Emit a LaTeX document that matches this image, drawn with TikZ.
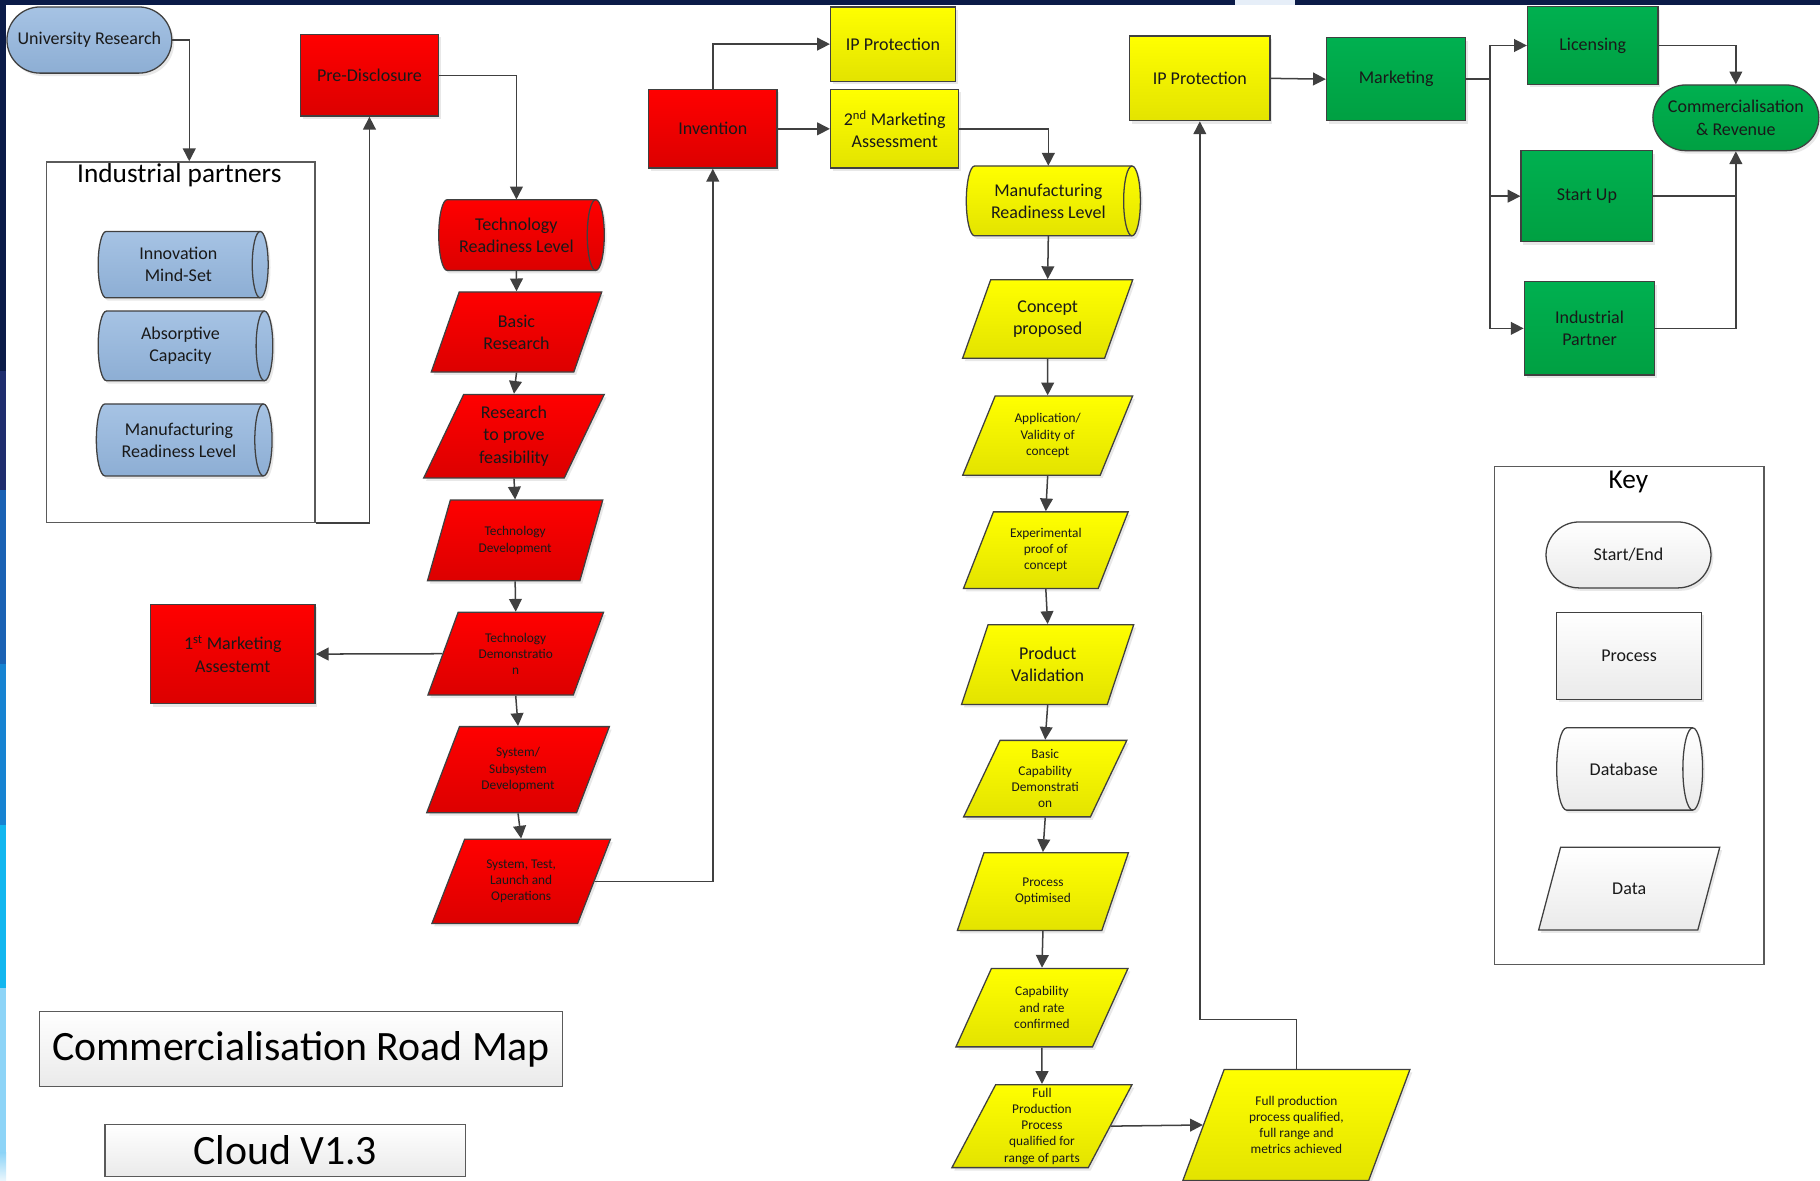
\documentclass[tikz,border=0pt]{standalone}
\usepackage{fontspec}
\setmainfont{Carlito}
\usetikzlibrary{shapes.geometric,shapes.misc,arrows.meta,shadows}

\definecolor{linegray}{HTML}{404040}
\definecolor{framegray}{HTML}{5A5A5A}
\definecolor{redtop}{HTML}{FF0000}
\definecolor{redbot}{HTML}{DC0000}
\definecolor{yeltop}{HTML}{FFFF00}
\definecolor{yelbot}{HTML}{E3E300}
\definecolor{grntop}{HTML}{00B050}
\definecolor{grnbot}{HTML}{00A042}
\definecolor{blutop}{HTML}{A6C3E4}
\definecolor{blubot}{HTML}{8DAED4}
\definecolor{keybot}{HTML}{EAEAEA}
\definecolor{navy}{HTML}{0B1B48}
\definecolor{stripa}{HTML}{1F2D6E}
\definecolor{stripb}{HTML}{1A62B4}
\definecolor{stripc}{HTML}{1683D2}
\definecolor{stripd}{HTML}{12B6EF}
\definecolor{stripe}{HTML}{8DD4F7}
\definecolor{stripf}{HTML}{EAF6FD}
\definecolor{bandpatch}{HTML}{E6EEF8}

\newcommand\bigtxt{\fontsize{15.5}{19}\selectfont}
\newcommand\smalltxt{\fontsize{11.5}{14}\selectfont}
\newcommand\headtxt{\fontsize{23.5}{27}\selectfont}
\newcommand\titletxt{\fontsize{36}{40}\selectfont}

\tikzset{
  sz/.style 2 args={minimum width=#1pt,minimum height=#2pt},
  shad/.style={drop shadow={shadow xshift=2pt,shadow yshift=-2.5pt,opacity=0.18}},
  shp/.style={draw=linegray,line width=1.1pt,inner sep=0pt,align=center,
    font=\bigtxt,text=black!90,shad},
  procbox/.style={shp,rectangle},
  databox/.style={shp,trapezium,trapezium left angle=65,trapezium right angle=115,
    trapezium stretches=true},
  termbox/.style={shp,rounded rectangle},
  small/.style={font=\smalltxt},
  redfill/.style={top color=redtop,bottom color=redbot},
  yelfill/.style={top color=yeltop,bottom color=yelbot},
  grnfill/.style={top color=grntop,bottom color=grnbot},
  blufill/.style={top color=blutop,bottom color=blubot},
  keyfill/.style={top color=white,bottom color=keybot},
  arr/.style={draw=linegray,line width=1.3pt,-{Triangle[length=11pt,width=11pt]}},
  conn/.style={draw=linegray,line width=1.3pt},
  frame/.style={draw=framegray,line width=1.2pt},
}

% horizontal database cylinder: name, x, y, width, height, fill style, text
% the named node covers the cylinder body, so its text and anchors sit on the body
\newcommand\dbnode[7]{%
  \pgfmathsetmacro\dbe{0.12*#5}%
  \pgfmathsetmacro\dbr{#5/2}%
  \pgfmathsetmacro\dbxl{#2-#4/2+\dbe}%
  \pgfmathsetmacro\dbxr{#2+#4/2-\dbe}%
  \pgfmathsetmacro\dbyt{#3-#5/2}%
  \pgfmathsetmacro\dbyb{#3+#5/2}%
  \pgfmathsetmacro\dbcx{#2-0.6*\dbe}%
  \pgfmathsetmacro\dbw{#4-1.2*\dbe}%
  \draw[draw=linegray,line width=1.1pt,shad,#6] (\dbxl,\dbyt) -- (\dbxr,\dbyt)
    arc[start angle=90,end angle=-90,x radius=\dbe pt,y radius=\dbr pt]
    -- (\dbxl,\dbyb)
    arc[start angle=270,end angle=90,x radius=\dbe pt,y radius=\dbr pt] -- cycle;
  \draw[draw=linegray,line width=1.1pt] (\dbxr,\dbyt)
    arc[start angle=90,end angle=270,x radius=\dbe pt,y radius=\dbr pt];
  \node[inner sep=0pt,align=center,font=\bigtxt,text=black!90,sz={\dbw}{#5}] (#1) at (\dbcx,#3) {#7};
}

\begin{document}
\begin{tikzpicture}[x=1pt,y=-1pt]
\useasboundingbox (0,0) rectangle (1568,1017);
\fill[white] (0,0) rectangle (1568,1017);

% slide frame: top band and stepped left strip
\fill[navy] (0,0) rectangle (1568,4.5);
\fill[bandpatch] (1064,0) rectangle (1116,4.5);
\fill[navy] (0,0) rectangle (5.2,320);
\fill[stripa] (0,320) rectangle (5.2,422);
\fill[stripb] (0,422) rectangle (5.2,572);
\fill[stripc] (0,572) rectangle (5.2,711);
\fill[stripd] (0,711) rectangle (5.2,851);
\fill[stripe] (0,851) rectangle (5.2,993);
\shade[top color=stripe,bottom color=stripf] (0,993) rectangle (5.2,1017);

% ---------- university side ----------
\node[termbox,blufill,sz={142}{57}] (ur) at (77,34.5) {University Research};
\node[frame,rectangle,sz={231.5}{310.5}] (ipbox) at (155.75,294.75) {};
\node[font=\headtxt,inner sep=0pt] (iptitle) at (154.5,151) {Industrial partners};
\dbnode{imind}{157.8}{228}{146.5}{57.2}{blufill}{Innovation\\Mind-Set}
\dbnode{absc}{159.8}{298}{150.5}{60}{blufill}{Absorptive\\Capacity}
\dbnode{mrlzero}{158.7}{379}{151.4}{62}{blufill}{Manufacturing\\Readiness Level}

% ---------- technology readiness (red) ----------
\node[procbox,redfill,sz={118.5}{70.3}] (pd) at (318.3,64.9) {Pre-Disclosure};
\dbnode{trl}{449.3}{202.5}{142.6}{61}{redfill}{Technology\\Readiness Level}
\node[databox,redfill,sz={147}{69}] (br) at (445,286) {Basic\\Research};
\node[databox,redfill,sz={155.6}{72}] (rpf) at (442.8,375.8) {Research\\to prove\\feasibility};
\node[databox,redfill,small,sz={151.6}{69.5}] (tdev) at (443.8,465.6) {Technology\\Development};
\node[databox,redfill,small,sz={152.2}{71.3}] (tdemo) at (444.3,563.2) {Technology\\Demonstratio\\n};
\node[databox,redfill,small,sz={158.5}{74.2}] (ssd) at (446.3,663.1) {System/\\Subsystem\\Development};
\node[databox,redfill,small,sz={154.3}{72.5}] (sto) at (449,759.3) {System, Test,\\Launch and\\Operations};
\node[procbox,redfill,sz={142}{85.4}] (mktone) at (200.5,563.5) {1\textsuperscript{st} Marketing\\Assestemt};
\node[procbox,redfill,sz={110.4}{67.7}] (inv) at (614.1,111) {Invention};

% ---------- manufacturing readiness (yellow) ----------
\node[procbox,yelfill,sz={107.5}{64}] (ipone) at (769.3,38) {IP Protection};
\node[procbox,yelfill,sz={110.5}{67.7}] (mkttwo) at (770.8,111) {2\textsuperscript{nd} Marketing\\Assessment};
\dbnode{mrl}{907.5}{173.1}{150}{60.2}{yelfill}{Manufacturing\\Readiness Level}
\node[databox,yelfill,sz={146.8}{67.6}] (cp) at (902.6,274.8) {Concept\\proposed};
\node[databox,yelfill,small,sz={146.8}{68.3}] (avc) at (902.6,375.3) {Application/\\Validity of\\concept};
\node[databox,yelfill,small,sz={142}{66}] (epc) at (901,474) {Experimental\\proof of\\concept};
\node[databox,yelfill,sz={148.6}{68.7}] (pv) at (902.6,572.5) {Product\\Validation};
\node[databox,yelfill,small,sz={140.6}{65.9}] (bcd) at (900.5,670.8) {Basic\\Capability\\Demonstrati\\on};
\node[databox,yelfill,small,sz={147.7}{67}] (po) at (898.5,768.1) {Process\\Optimised};
\node[databox,yelfill,small,sz={149.2}{67.6}] (crc) at (897.7,868.1) {Capability\\and rate\\confirmed};
\node[databox,yelfill,small,sz={155.4}{71.5}] (fpp) at (897.7,970.2) {Full\\Production\\Process\\qualified for\\range of parts};
\node[databox,yelfill,small,sz={195.8}{95.7}] (fpq) at (1116.9,969.2) {Full production\\process qualified,\\full range and\\metrics achieved};
\node[procbox,yelfill,sz={121}{73}] (iptwo) at (1033.7,67.5) {IP Protection};

% ---------- commercialisation (green) ----------
\node[procbox,grnfill,sz={120}{71.5}] (mkt) at (1202.8,68.2) {Marketing};
\node[procbox,grnfill,sz={112.4}{67}] (lic) at (1372.2,39.2) {Licensing};
\node[procbox,grnfill,sz={113.4}{78.4}] (su) at (1367.2,169) {Start Up};
\node[procbox,grnfill,sz={112.4}{80.4}] (indp) at (1369.4,282.9) {Industrial\\Partner};
\node[termbox,grnfill,sz={143}{56.6}] (cr) at (1495.5,101.5) {Commercialisation\\\& Revenue};

% ---------- key ----------
\node[frame,rectangle,sz={232.3}{429.2}] (keybox) at (1403.55,616.3) {};
\node[font=\headtxt,inner sep=0pt] (keytitle) at (1402.9,415.3) {Key};
\node[termbox,keyfill,sz={142.1}{56.8}] (kstart) at (1403,478.1) {Start/End};
\node[procbox,keyfill,sz={124.6}{75.2}] (kproc) at (1403.5,565) {Process};
\dbnode{kdb}{1404}{662.5}{125.7}{70.9}{keyfill}{Database}
\node[databox,keyfill,sz={156.6}{71.4}] (kdata) at (1403.6,765.6) {Data};

% ---------- titles ----------
\node[frame,rectangle,keyfill,font=\titletxt,inner sep=0pt,sz={450.5}{65}] (title) at (259.3,903.7) {Commercialisation Road Map};
\node[frame,rectangle,keyfill,font=\titletxt,inner sep=0pt,sz={311}{45}] (cloud) at (245.8,991.1) {Cloud V1.3};

% ---------- connectors ----------
\draw[arr] (ur.east) -| ([xshift=7.3pt]ipbox.north);
\draw[arr] (ipbox.south east) -| (pd.south);
\draw[arr] (pd.east) -| (trl.north);
\draw[arr] (trl.south) -- (br.north);
\draw[arr] (br.south) -- (rpf.north);
\draw[arr] (rpf.south) -- (tdev.north);
\draw[arr] (tdev.south) -- (tdemo.north);
\draw[arr] (tdemo.south) -- (ssd.north);
\draw[arr] (ssd.south) -- (sto.north);
\draw[arr] (tdemo.west) -- (mktone.east);
\draw[arr] (sto.east) -| (inv.south);
\draw[arr] (inv.north) |- (ipone.west);
\draw[arr] (inv.east) -- (mkttwo.west);
\draw[arr] (mkttwo.east) -| (mrl.north);
\draw[arr] (mrl.south) -- (cp.north);
\draw[arr] (cp.south) -- (avc.north);
\draw[arr] (avc.south) -- (epc.north);
\draw[arr] (epc.south) -- (pv.north);
\draw[arr] (pv.south) -- (bcd.north);
\draw[arr] (bcd.south) -- (po.north);
\draw[arr] (po.south) -- (crc.north);
\draw[arr] (crc.south) -- (fpp.north);
\draw[arr] (fpp.east) -- (fpq.west);
\draw[arr] (fpq.north) -- ++(0,-42.3) -| (iptwo.south);
\draw[arr] (iptwo.east) -- (mkt.west);
\coordinate (bus) at (1283.5,68.2);
\draw[conn] (mkt.east) -- (bus);
\draw[arr] (bus) |- (lic.west);
\draw[arr] (bus) |- (su.west);
\draw[arr] (bus) |- (indp.west);
\draw[arr] (lic.east) -| (cr.north);
\draw[conn] (su.east) -- (su.east -| cr.south);
\draw[arr] (indp.east) -| (cr.south);
\end{tikzpicture}
\end{document}
